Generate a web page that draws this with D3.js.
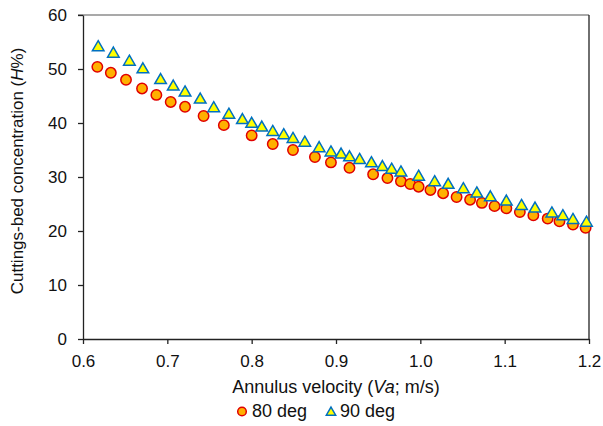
<!DOCTYPE html>
<html>
<head>
<meta charset="utf-8">
<script src="https://cdn.jsdelivr.net/npm/d3@7"></script>
<style>
  body { margin: 0; background: #fff; }
  svg { font-family: "Liberation Sans", Arial, sans-serif; }
</style>
</head>
<body>
<div id="chart"></div>
<script>
// 80 deg series (circles)
const va80 = [0.617, 0.633, 0.651, 0.670, 0.687, 0.704, 0.721, 0.743, 0.767, 0.800,
    0.825, 0.849, 0.875, 0.894, 0.916, 0.944, 0.961, 0.977, 0.988, 0.998,
    1.012, 1.027, 1.043, 1.059, 1.073, 1.088, 1.102, 1.118, 1.134, 1.151,
    1.165, 1.181, 1.196];
const h80 = [50.4, 49.3, 48.0, 46.4, 45.2, 43.9, 43.0, 41.3, 39.6, 37.7,
    36.1, 35.0, 33.7, 32.7, 31.7, 30.5, 29.8, 29.2, 28.7, 28.2,
    27.6, 27.0, 26.3, 25.8, 25.2, 24.6, 24.2, 23.5, 22.9, 22.3,
    21.8, 21.2, 20.6];

// 90 deg series (triangles)
const va90 = [0.618, 0.636, 0.655, 0.671, 0.692, 0.707, 0.721, 0.739, 0.755, 0.773,
    0.789, 0.800, 0.812, 0.825, 0.838, 0.849, 0.863, 0.880, 0.894, 0.906,
    0.916, 0.928, 0.942, 0.955, 0.966, 0.977, 0.998, 1.017, 1.033, 1.051,
    1.067, 1.083, 1.102, 1.120, 1.136, 1.156, 1.169, 1.181, 1.197];
const h90 = [54.2, 53.0, 51.5, 50.1, 48.1, 46.9, 45.8, 44.5, 42.9, 41.7,
    40.7, 40.0, 39.3, 38.5, 37.9, 37.2, 36.5, 35.5, 34.7, 34.3,
    33.8, 33.3, 32.7, 32.0, 31.5, 31.0, 30.2, 29.2, 28.7, 27.9,
    27.1, 26.4, 25.6, 24.8, 24.3, 23.4, 22.9, 22.2, 21.7];

const xTicks = [0.6, 0.7, 0.8, 0.9, 1.0, 1.1, 1.2];
const yTicks = [0, 10, 20, 30, 40, 50, 60];

const data80 = va80.map((v, i) => ({x: v, y: h80[i]}));
const data90 = va90.map((v, i) => ({x: v, y: h90[i]}));

const W = 603, H = 426;
const margin = {top: 15, right: 14, bottom: 87, left: 83};

const svg = d3.select("#chart").append("svg")
    .attr("width", W)
    .attr("height", H);

const x = d3.scaleLinear().domain([0.6, 1.2]).range([margin.left, W - margin.right]);
const y = d3.scaleLinear().domain([0, 60]).range([H - margin.bottom, margin.top]);

// frame: top (grey) and right borders
svg.append("line")
    .attr("x1", margin.left - 5).attr("x2", W - margin.right)
    .attr("y1", y(60)).attr("y2", y(60))
    .attr("stroke", "#8c8c8c").attr("stroke-width", 1.3);
svg.append("line")
    .attr("x1", W - margin.right).attr("x2", W - margin.right)
    .attr("y1", y(60)).attr("y2", y(0))
    .attr("stroke", "#222").attr("stroke-width", 1.3);

// Y axis
const yAxis = svg.append("g")
    .attr("transform", `translate(${margin.left},0)`)
    .call(d3.axisLeft(y).tickValues(yTicks).tickSize(5).tickPadding(11).tickSizeOuter(0));
yAxis.selectAll("text").style("font-size", "17px").attr("fill", "#111");
yAxis.selectAll("line, path").attr("stroke", "#222").attr("stroke-width", 1.3);

// X axis
const xAxis = svg.append("g")
    .attr("transform", `translate(0,${y(0)})`)
    .call(d3.axisBottom(x).tickValues(xTicks).tickFormat(d3.format(".1f"))
        .tickSize(5).tickPadding(11).tickSizeOuter(0));
xAxis.selectAll("text").style("font-size", "17px").attr("fill", "#111");
xAxis.selectAll("line, path").attr("stroke", "#222").attr("stroke-width", 1.3);

// axis titles
const xt = svg.append("text")
    .attr("x", (margin.left + W - margin.right) / 2)
    .attr("y", 393)
    .attr("text-anchor", "middle")
    .style("font-size", "18px")
    .attr("fill", "#111");
xt.append("tspan").text("Annulus velocity (");
xt.append("tspan").style("font-style", "italic").text("Va");
xt.append("tspan").text("; m/s)");

const yt = svg.append("text")
    .attr("transform", `translate(23,${(y(0) + y(60)) / 2 - 6}) rotate(-90)`)
    .attr("text-anchor", "middle")
    .style("font-size", "17px")
    .attr("fill", "#111");
yt.append("tspan").text("Cuttings-bed concentration (");
yt.append("tspan").style("font-style", "italic").text("H");
yt.append("tspan").text("%)");

// markers
const tri = d3.symbol().type(d3.symbolTriangle).size(58);

svg.append("g").selectAll("circle")
    .data(data80)
    .enter().append("circle")
    .attr("cx", d => x(d.x))
    .attr("cy", d => y(d.y))
    .attr("r", 5.2)
    .attr("fill", "#FFB000")
    .attr("stroke", "#E00000")
    .attr("stroke-width", 1.5);

svg.append("g").selectAll("path")
    .data(data90)
    .enter().append("path")
    .attr("d", tri)
    .attr("transform", d => `translate(${x(d.x)},${y(d.y) + 1})`)
    .attr("fill", "#FFFF00")
    .attr("stroke", "#0070C0")
    .attr("stroke-width", 1.5);

// legend
const legend = svg.append("g").attr("transform", "translate(0,417)");
legend.append("circle")
    .attr("cx", 242).attr("cy", -5.5).attr("r", 4.3)
    .attr("fill", "#FFB000").attr("stroke", "#E00000").attr("stroke-width", 1.5);
legend.append("text")
    .attr("x", 252).attr("y", 0)
    .style("font-size", "18px").attr("fill", "#111")
    .text("80 deg");
legend.append("path")
    .attr("d", d3.symbol().type(d3.symbolTriangle).size(38))
    .attr("transform", "translate(331,-4.5)")
    .attr("fill", "#FFFF00").attr("stroke", "#0070C0").attr("stroke-width", 1.5);
legend.append("text")
    .attr("x", 340).attr("y", 0)
    .style("font-size", "18px").attr("fill", "#111")
    .text("90 deg");
</script>
</body>
</html>
